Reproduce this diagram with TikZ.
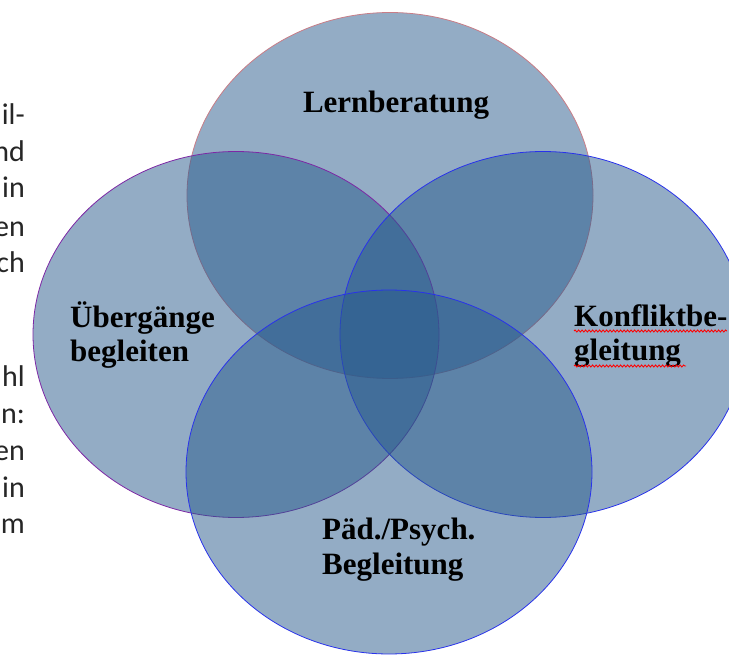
\documentclass[tikz,border=0pt]{standalone}
\usepackage{fontspec}
\setmainfont{Liberation Serif}
\newfontfamily\sidefont{Carlito}
\usetikzlibrary{decorations.pathmorphing}
\definecolor{vennblue}{RGB}{40,90,140}
\definecolor{rimred}{RGB}{200,125,135}
\definecolor{rimpurple}{RGB}{125,40,165}
\definecolor{rimblue}{RGB}{40,50,235}
\tikzset{
  venn/.style={fill=vennblue,fill opacity=0.5,line width=0.8pt},
  area/.style={font=\fontsize{31}{35}\selectfont\bfseries,inner sep=0pt,align=left},
  side/.style={font=\sidefont\fontsize{30}{36}\selectfont,text=black!85,
    inner sep=0pt,anchor=base east},
  spell/.style={red,line width=0.9pt,decorate,
    decoration={snake,amplitude=1pt,segment length=3.5pt}}
}

\begin{document}
\begin{tikzpicture}[x=1pt,y=-1pt]
  \useasboundingbox (0,0) rectangle (729,655);
  \begin{scope}
    \clip (0,0) rectangle (729,655);
    \draw[venn,draw=rimred]    (390,195.5) ellipse [x radius=203pt,y radius=183pt];
    \draw[venn,draw=rimpurple] (236,334.5) ellipse [x radius=203pt,y radius=183pt];
    \draw[venn,draw=rimblue]   (543,334.5) ellipse [x radius=203pt,y radius=183pt];
    \draw[venn,draw=rimblue]   (389,472)   ellipse [x radius=203pt,y radius=182pt];
  \end{scope}

  % base anchor = last line
  \node[area,anchor=base]      (lern)     at (396,113) {Lernberatung};
  \node[area,anchor=base west] (ueber)    at (70,362)  {Übergänge\\begleiten};
  \node[area,anchor=base west] (konflikt) at (574,361) {Konfliktbe-\\gleitung};
  \node[area,anchor=base west] (paed)     at (322,574) {Päd./Psych.\\Begleitung};
  \draw[spell] (574,331) -- (727,331);
  \draw[spell] (574,366) -- (686,366);

  \foreach \y/\t in {125/il-,162/nd,198/in,237/en,273/ch,
                     387/hl,423/n:,460/en,497/in,533/m}
    \node[side] (side\y) at (25,\y) {\t};
\end{tikzpicture}
\end{document}
